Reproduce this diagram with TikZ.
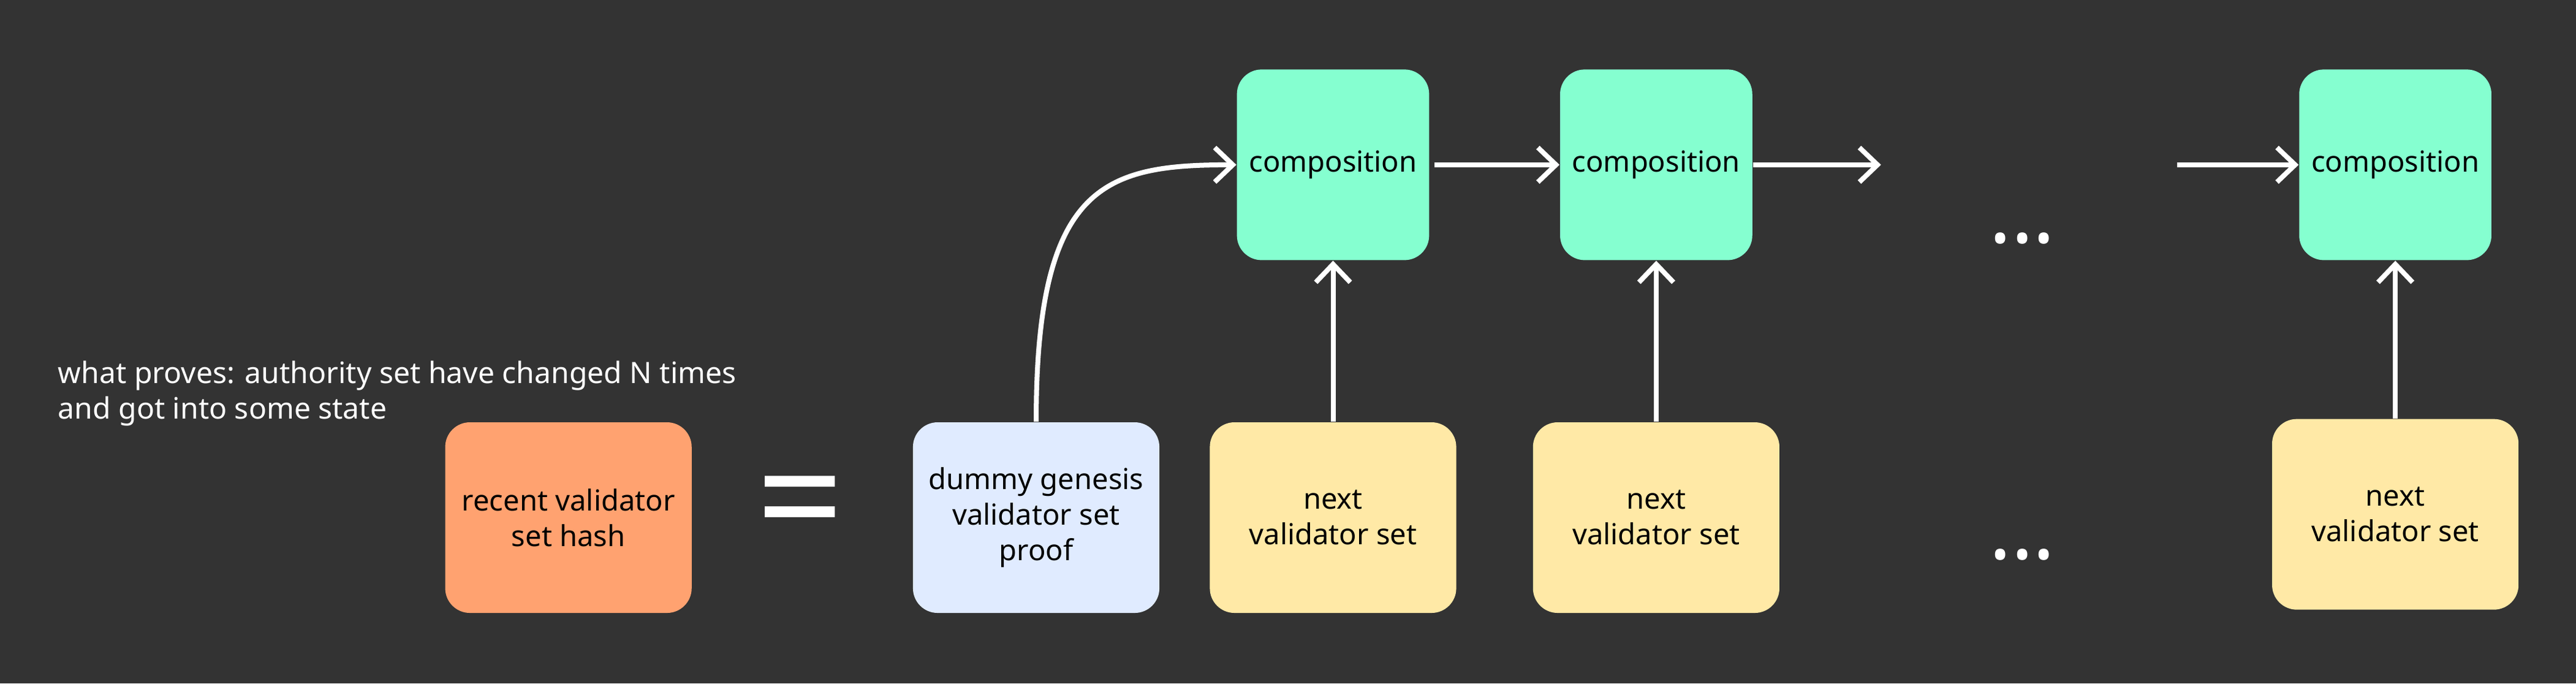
\documentclass[tikz,border=0pt]{standalone}
\usepackage{fontspec}
\setmainfont{Noto Sans}
\usepackage{xcolor}
\definecolor{colorBack}{HTML}{333333}
\definecolor{colorHash}{HTML}{FFA270}
\definecolor{colorGenesis}{HTML}{E0EBFF}
\definecolor{colorNext}{HTML}{FFE9A6}
\definecolor{colorComp}{HTML}{85FFD0}
\usetikzlibrary{arrows.meta, positioning}
\tikzset{
  box/.style={rounded corners=0.3cm, inner sep=0pt, align=center, text=black, font=\fontsize{10}{12.3}\selectfont},
  setbox/.style={box, minimum width=3cm, minimum height=2.32cm},
  compbox/.style={box, fill=colorComp, minimum width=2.34cm, minimum height=2.32cm},
  flow/.style={->, white, line width=1.7pt},
  dots/.style={text=white, inner sep=0pt, font=\fontsize{16}{16}\selectfont},
}

\begin{document}
\begin{tikzpicture}[>={Straight Barb[length=2.2mm, width=4.2mm]}]
\fill[colorBack] (0,0) rectangle (31.36,8.32);
\useasboundingbox (0,0) rectangle (31.36,8.32);
\node[text=white, align=left, anchor=west, inner sep=0pt, font=\fontsize{10.2}{12.3}\selectfont] (what) at (0.7,3.53) {what proves: authority set have changed N times\\and got into some state};
\node[setbox, fill=colorHash] (hash) at (6.92,2.02) {recent validator\\set hash};
\node[text=white, inner sep=0pt, font=\fontsize{53}{53}\selectfont] (eq) at (9.74,2.07) {=};
\node[setbox, fill=colorGenesis, right=2.68cm of hash] (genesis) {dummy genesis\\validator set\\proof};
\node[setbox, fill=colorNext, right=0.6cm of genesis] (next1) {next\\validator set};
\node[setbox, fill=colorNext, right=0.92cm of next1] (next2) {next\\validator set};
\node[setbox, fill=colorNext] (next3) at (29.16,2.06) {next\\validator set};
\node[compbox, above=1.96cm of next1] (comp1) {composition};
\node[compbox, above=1.96cm of next2] (comp2) {composition};
\node[compbox, above=1.92cm of next3] (comp3) {composition};
\node[dots] (dotsTop) at (24.62,5.35) {\textbullet\hspace{1.5pt}\textbullet\hspace{1.5pt}\textbullet};
\node[dots] (dotsBottom) at (24.62,1.50) {\textbullet\hspace{1.5pt}\textbullet\hspace{1.5pt}\textbullet};
\coordinate[right=1.56cm of comp2.east] (cont);
\coordinate[left=1.48cm of comp3.west] (resume);
% chain of compositions
\draw[flow] (genesis.north) .. controls +(0,2.9) and +(-1.6,0) .. (comp1.west);
\draw[flow, shorten <=0.06cm] (comp1.east) -- (comp2.west);
\draw[flow] (comp2.east) -- (cont);
\draw[flow] (resume) -- (comp3.west);
% validator sets
\draw[flow] (next1.north) -- (comp1.south);
\draw[flow] (next2.north) -- (comp2.south);
\draw[flow] (next3.north) -- (comp3.south);
\end{tikzpicture}
\end{document}
